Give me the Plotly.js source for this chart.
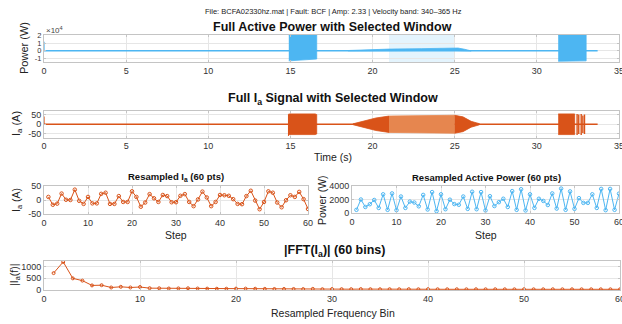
<!DOCTYPE html>
<html>
<head>
<meta charset="utf-8">
<script src="https://cdn.plot.ly/plotly-3.0.1.min.js"></script>
<style>
  html, body { margin: 0; padding: 0; background: #fff; }
  #chart { width: 622px; height: 324px; }
</style>
</head>
<body>
<div id="chart"></div>
<script>
// ---- Full active power: envelope segments of the dense waveform (s, W) ----
const powBaseT = [0, 33.7];
const powBaseV = [0, 0];
const powSpikeT = [0, 0];
const powSpikeV = [0, 12000];
const powBurst1T = [14.9, 16.6];
const powBurst1Hi = [21000, 21000];
const powBurst1Lo = [-13500, -11000];
const powHumpT = [18.5, 20, 21, 23, 24.9, 25.2, 25.6, 26.0];
const powHumpHi = [300, 1500, 2200, 2800, 3500, 3600, 2000, 300];
const powHumpLo = [-200, 0, 200, 300, 400, 300, 0, -200];
const powBurst2T = [31.3, 33.0];
const powBurst2Hi = [21000, 21000];
const powBurst2Lo = [-14000, -13500];
const powTicks = [-10000, 0, 10000, 20000];
const powTickText = ['-1', '0', '1', '2'];

// ---- Full phase-a current: envelope segments (s, A) ----
const iaBaseT = [0, 33.7];
const iaBaseV = [0, 0];
const iaSpikeT = [0, 0];
const iaSpikeV = [0, 40];
const iaBurst1T = [14.85, 14.95, 16.5, 16.6];
const iaBurst1Hi = [50, 53, 53, 50];
const iaBurst1Lo = [-60, -53, -53, -50];
const iaRampUpT = [18.8, 19.5, 20.2, 21.0];
const iaRampUpHi = [2, 18, 32, 42];
const iaRampUpLo = [-2, -18, -32, -42];
const iaWinT = [21, 23, 25];
const iaWinHi = [42, 44, 46];
const iaWinLo = [-42, -44, -46];
const iaRampDnT = [25, 25.5, 26, 26.5];
const iaRampDnHi = [46, 38, 15, 3];
const iaRampDnLo = [-46, -38, -15, -3];
const iaBurst2T = [31.3, 32.3];
const iaBurst2Hi = [53, 53];
const iaBurst2Lo = [-53, -53];
const iaSpikesT = [32.45, 32.55, 32.7, 32.8, 32.9];
const iaSpikesHi = [53, 50, 53, 45, 50];
const iaSpikesLo = [-55, -50, -55, -45, -50];
const iaTicks = [-50, 0, 50];
const iaTickText = ['-50', '0', '50'];

// selected analysis window (s)
const windowStart = 21;
const windowEnd = 25;

// ---- Resampled window (60 points) ----
const steps = Array.from({length: 60}, (_, i) => i + 1);
const iaResampled = [
  11, -17, -13, 23, 1, 0, 37, -3, -14, 11,
  -12, -12, 22, 26, -14, -14, 14, -7, -7, 31,
  11, -24, -9, 21, 6, -7, 18, 14, -8, -8,
  15, 21, -7, -22, 2, 30, 9, -22, -7, 18,
  17, 15, 3, -14, -15, 14, 33, -2, -33, -7,
  31, 26, -9, -26, -1, 17, 11, 29, 3, -32
];
const powResampled = [
  470, 2000, 890, 1300, 1930, 750, 2770, 470, 2900, 420,
  2440, 750, 1690, 1550, 990, 2680, 520, 3100, 280, 2770,
  560, 1970, 1320, 1220, 2440, 610, 3150, 560, 3100, 380,
  2490, 1030, 1600, 2110, 890, 3240, 470, 3520, 380, 2770,
  750, 2110, 1790, 1180, 2900, 660, 3620, 470, 3200, 610,
  2200, 1500, 1500, 2770, 750, 3570, 420, 3570, 470, 2870
];
const iaStepTicks = [-50, 0, 50];
const iaStepTickText = ['-50', '0', '50'];

// ---- Spectrum magnitude (60 bins) ----
const bins = Array.from({length: 60}, (_, i) => i + 1);
const fftMag = [
  720, 1210, 490, 390, 180, 190, 90, 120, 90, 110,
  60, 55, 45, 50, 55, 45, 40, 35, 35, 40,
  40, 35, 30, 25, 25, 25, 20, 30, 15, 20,
  18, 15, 20, 15, 12, 15, 12, 15, 12, 15,
  12, 10, 12, 10, 12, 10, 12, 10, 10, 12,
  10, 10, 12, 10, 10, 10, 10, 10, 10, 10
];

// ---- colours ----
const blue = '#4DB6F2';
const orange = '#D95319';
const orangeLight = '#E6864F';
const windowFill = '#E4F4FD';

// ---- helpers ----
const W = 622, H = 324;
const X = p => p / W;
const Y = p => 1 - p / H;
const band = (t, hi, lo) => ({
  x: t.concat(t.slice().reverse()),
  y: hi.concat(lo.slice().reverse())
});
const sticks = (t, hi, lo) => {
  const x = [], y = [];
  t.forEach((v, i) => { x.push(v, v, null); y.push(lo[i], hi[i], null); });
  return {x, y};
};

const traces = [];
function fillTrace(b, color, xa, ya) {
  traces.push({x: b.x, y: b.y, xaxis: xa, yaxis: ya, type: 'scatter', mode: 'lines',
    fill: 'toself', fillcolor: color, line: {color: color, width: 0.8},
    hoverinfo: 'skip', showlegend: false});
}
function lineTrace(x, y, color, width, xa, ya) {
  traces.push({x, y, xaxis: xa, yaxis: ya, type: 'scatter', mode: 'lines',
    line: {color, width}, hoverinfo: 'skip', showlegend: false, connectgaps: false});
}

// full active power
lineTrace(powBaseT, powBaseV, blue, 1.6, 'x', 'y');
lineTrace(powSpikeT, powSpikeV, blue, 1.2, 'x', 'y');
fillTrace(band(powBurst1T, powBurst1Hi, powBurst1Lo), blue, 'x', 'y');
fillTrace(band(powHumpT, powHumpHi, powHumpLo), blue, 'x', 'y');
fillTrace(band(powBurst2T, powBurst2Hi, powBurst2Lo), blue, 'x', 'y');

// full phase-a current
lineTrace(iaBaseT, iaBaseV, orange, 1.6, 'x2', 'y2');
lineTrace(iaSpikeT, iaSpikeV, orange, 1.2, 'x2', 'y2');
fillTrace(band(iaBurst1T, iaBurst1Hi, iaBurst1Lo), orange, 'x2', 'y2');
fillTrace(band(iaRampUpT, iaRampUpHi, iaRampUpLo), orange, 'x2', 'y2');
fillTrace(band(iaWinT, iaWinHi, iaWinLo), orangeLight, 'x2', 'y2');
fillTrace(band(iaRampDnT, iaRampDnHi, iaRampDnLo), orange, 'x2', 'y2');
fillTrace(band(iaBurst2T, iaBurst2Hi, iaBurst2Lo), orange, 'x2', 'y2');
const sp = sticks(iaSpikesT, iaSpikesHi, iaSpikesLo);
lineTrace(sp.x, sp.y, orange, 1.4, 'x2', 'y2');

// resampled series
traces.push({x: steps, y: iaResampled, xaxis: 'x3', yaxis: 'y3', type: 'scatter',
  mode: 'lines+markers', line: {color: orange, width: 1},
  marker: {symbol: 'circle-open', size: 3.5, color: orange, line: {width: 1}},
  hoverinfo: 'skip', showlegend: false});
traces.push({x: steps, y: powResampled, xaxis: 'x4', yaxis: 'y4', type: 'scatter',
  mode: 'lines+markers', line: {color: blue, width: 1},
  marker: {symbol: 'circle-open', size: 3.5, color: blue, line: {width: 1}},
  hoverinfo: 'skip', showlegend: false});

// spectrum
traces.push({x: bins, y: fftMag, xaxis: 'x5', yaxis: 'y5', type: 'scatter',
  mode: 'lines+markers', line: {color: orange, width: 1},
  marker: {symbol: 'circle-open', size: 3, color: orange, line: {width: 1}},
  hoverinfo: 'skip', showlegend: false});

const font = 'Liberation Sans, Arial, Helvetica, sans-serif';
const tickFont = {family: font, size: 9, color: '#333'};
const baseAxis = {
  showline: true, mirror: 'ticks', linecolor: '#C4C4C4', linewidth: 1,
  showgrid: true, gridcolor: '#E6E6E6', gridwidth: 1, zeroline: false,
  ticks: 'inside', ticklen: 2, tickcolor: '#C4C4C4',
  tickfont: tickFont, fixedrange: true, ticklabeloverflow: 'allow'
};
const ax = (o) => Object.assign({}, baseAxis, o);

const layout = {
  width: W, height: H,
  margin: {l: 0, r: 0, t: 0, b: 0},
  paper_bgcolor: '#fff', plot_bgcolor: '#fff',
  showlegend: false,
  xaxis:  ax({domain: [X(44), X(619)], anchor: 'y', range: [0, 35], tickvals: [0, 5, 10, 15, 20, 25, 30, 35]}),
  yaxis:  ax({domain: [Y(62), Y(35)], anchor: 'x', range: [-15000, 21000], tickvals: powTicks, ticktext: powTickText,
              tickfont: {family: font, size: 7.5, color: '#333'}}),
  xaxis2: ax({domain: [X(44), X(619)], anchor: 'y2', range: [0, 35], tickvals: [0, 5, 10, 15, 20, 25, 30, 35]}),
  yaxis2: ax({domain: [Y(137.5), Y(111)], anchor: 'x2', range: [-68, 68], tickvals: iaTicks, ticktext: iaTickText}),
  xaxis3: ax({domain: [X(44), X(308)], anchor: 'y3', range: [0, 60], tickvals: [0, 10, 20, 30, 40, 50, 60]}),
  yaxis3: ax({domain: [Y(214), Y(186)], anchor: 'x3', range: [-50, 50], tickvals: iaStepTicks, ticktext: iaStepTickText}),
  xaxis4: ax({domain: [X(352), X(619)], anchor: 'y4', range: [0, 60], tickvals: [0, 10, 20, 30, 40, 50, 60]}),
  yaxis4: ax({domain: [Y(213), Y(186)], anchor: 'x4', range: [0, 4000], tickvals: [0, 2000, 4000]}),
  xaxis5: ax({domain: [X(44), X(620)], anchor: 'y5', range: [0, 60], tickvals: [0, 10, 20, 30, 40, 50, 60]}),
  yaxis5: ax({domain: [Y(290), Y(261)], anchor: 'x5', range: [-20, 1250], tickvals: [0, 500, 1000]}),
  shapes: [
    {type: 'rect', xref: 'x', yref: 'paper', x0: windowStart, x1: windowEnd,
     y0: Y(62), y1: Y(35), fillcolor: windowFill, line: {width: 0}, layer: 'below'}
  ],
  annotations: []
};

function label(text, x, y, size, opts) {
  layout.annotations.push(Object.assign({
    text, x: X(x), y: Y(y), xref: 'paper', yref: 'paper',
    xanchor: 'center', yanchor: 'middle', showarrow: false,
    font: {family: font, size, color: '#111'}
  }, opts || {}));
}

label('File: BCFA02330hz.mat | Fault: BCF | Amp: 2.33 | Velocity band: 340–365 Hz', 333, 11, 7.5, {font: {family: font, size: 7.5, color: '#222'}});
label('<b>Full Active Power with Selected Window</b>', 332, 27, 12.5);
label('<b>Full I<sub>a</sub> Signal with Selected Window</b>', 333, 99, 12.5);
label('<b>Resampled I<sub>a</sub> (60 pts)</b>', 176, 177, 9.5);
label('<b>Resampled Active Power (60 pts)</b>', 486, 177, 9.5);
label('<b>|FFT(I<sub>a</sub>)| (60 bins)</b>', 334, 251, 12.5);

// exponent label for the power axis
label('×10<sup>4</sup>', 54, 30, 8, {font: {family: font, size: 8, color: '#444'}});

// axis titles
label('Time (s)', 333, 157, 10.5, {font: {family: font, size: 10.5, color: '#222'}});
label('Step', 176, 235, 10.5, {font: {family: font, size: 10.5, color: '#222'}});
label('Step', 486, 235, 10.5, {font: {family: font, size: 10.5, color: '#222'}});
label('Resampled Frequency Bin', 333, 313, 10.5, {font: {family: font, size: 10.5, color: '#222'}});

const yt = {textangle: -90};
label('Power (W)', 24, 48, 11, Object.assign({font: {family: font, size: 11, color: '#222'}}, yt));
label('I<sub>a</sub> (A)', 17, 124, 11, Object.assign({font: {family: font, size: 11, color: '#222'}}, yt));
label('I<sub>a</sub> (A)', 17, 200, 10.5, Object.assign({font: {family: font, size: 10.5, color: '#222'}}, yt));
label('Power (W)', 322, 200, 10.5, Object.assign({font: {family: font, size: 10.5, color: '#222'}}, yt));
label('|I<sub>a</sub>(f)|', 15, 275, 10.5, Object.assign({font: {family: font, size: 10.5, color: '#222'}}, yt));

Plotly.newPlot('chart', traces, layout, {staticPlot: true, displayModeBar: false});
</script>
</body>
</html>
